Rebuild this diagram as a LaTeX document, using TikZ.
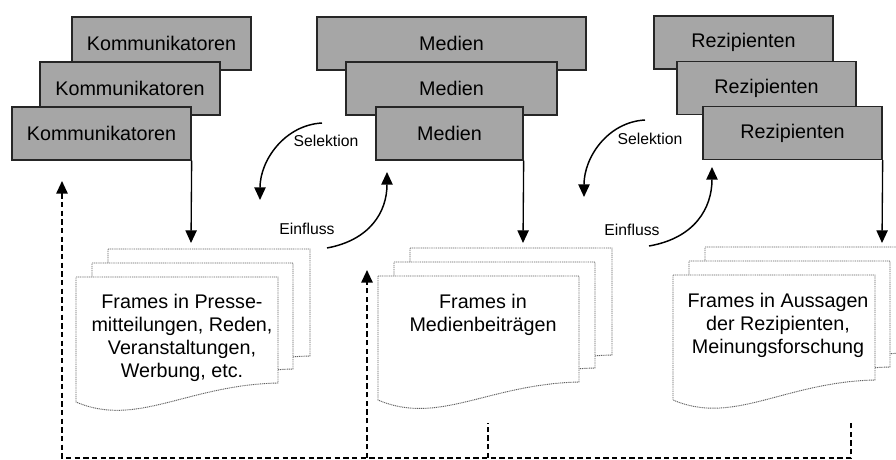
\documentclass[tikz,border=0pt]{standalone}
\usepackage{fontspec}
\setmainfont{Liberation Sans}
\usetikzlibrary{arrows.meta}
\tikzset{
  box/.style={draw=black!85, line width=1pt, fill=black!35, minimum height=53*0.75pt, inner sep=0pt, font=\fontsize{14.8}{17}\selectfont},
  docline/.style={draw=black!62, line width=0.7pt, dash pattern=on 0.8pt off 0.6pt, fill=white},
  doctext/.style={anchor=north, align=center, inner sep=0pt, font=\fontsize{14.8}{17.3}\selectfont},
  lab/.style={inner sep=0pt, font=\fontsize{11.8}{14}\selectfont},
  tip/.style={-{Triangle[width=8.5pt,length=9.5pt]}},
  flow/.style={line width=1pt, tip},
  curv/.style={line width=1.1pt, tip},
  fb/.style={line width=1.4pt, dash pattern=on 4pt off 2.5pt},
}
\newcommand\docshape[5]{%
  \path[docline] (#1,#2) -- (#3,#2) -- (#3,#4)
    .. controls ({#1+0.55*(#3-#1)},{#4+2}) and ({#1+0.3*(#3-#1)},{#5+26}) .. (#1,#5) -- cycle;}
\begin{document}
\begin{tikzpicture}[x=0.75pt, y=-0.75pt]
\useasboundingbox (0,0) rectangle (896,460);
\clip (0,0) rectangle (896,460);
\fill[white] (0,0) rectangle (896,460);

% Kommunikatoren
\node[box, minimum width=179*0.75pt] (k1) at (161.5,43.5) {Kommunikatoren};
\node[box, minimum width=180*0.75pt] (k2) at (130,88.5) {Kommunikatoren};
\node[box, minimum width=179*0.75pt] (k3) at (101.5,133.5) {Kommunikatoren};
% Medien
\node[box, minimum width=269*0.75pt] (m1) at (451.5,43.5) {Medien};
\node[box, minimum width=211*0.75pt] (m2) at (451.5,88.5) {Medien};
\node[box, minimum width=147*0.75pt] (m3) at (449.5,133.5) {Medien};
% Rezipienten
\node[box, minimum width=179*0.75pt] (r1) at (743.5,42.5) {Rezipienten};
\node[box, minimum width=179*0.75pt] (r2) at (766.5,88) {Rezipienten};
\node[box, minimum width=179*0.75pt] (r3) at (792.5,133) {Rezipienten};

% documents
\docshape{108}{249}{310}{356}{374}
\docshape{92}{263}{293}{369}{388}
\docshape{76}{277}{278}{383}{402}
\docshape{410}{248}{612}{355}{373}
\docshape{394}{262}{595}{368}{387}
\docshape{378}{276}{579}{382}{400}
\docshape{705}{247}{905}{353}{372}
\docshape{689}{261}{890}{367}{386}
\docshape{673}{275}{875}{380}{400}

\node[doctext] (t1) at (182,294) {Frames in Presse-\\mitteilungen, Reden,\\Veranstaltungen,\\Werbung, etc.};
\node[doctext] (t2) at (483,294) {Frames in\\Medienbeiträgen};
\node[doctext] (t3) at (778,293) {Frames in Aussagen\\der Rezipienten,\\Meinungsforschung};

% downward arrows
\coordinate (d1in) at (191,243);
\coordinate (d2in) at (523,243);
\coordinate (d3in) at (882,243);
\draw[flow] (k3.south east) -- (d1in);
\draw[flow] (m3.south east) -- (d2in);
\draw[flow] (r3.south east) -- (d3in);

% Selektion / Einfluss arcs
\coordinate (s1a) at (322,123); \coordinate (s1b) at (260,200);
\coordinate (s2a) at (645,120); \coordinate (s2b) at (584,197);
\coordinate (e1a) at (327,248); \coordinate (e1b) at (387,172);
\coordinate (e2a) at (649,246); \coordinate (e2b) at (712,167);
\draw[curv] (s1a) .. controls (285,125) and (260,160) .. (s1b);
\draw[curv] (s2a) .. controls (608,122) and (584,157) .. (s2b);
\draw[curv] (e1a) .. controls (370,240) and (387,212) .. (e1b);
\draw[curv] (e2a) .. controls (695,238) and (712,208) .. (e2b);
\node[lab] (sel1) at (326,141) {Selektion};
\node[lab] (sel2) at (650,139) {Selektion};
\node[lab] (ein1) at (307,229) {Einfluss};
\node[lab] (ein2) at (632,230) {Einfluss};

% feedback dashed lines
\coordinate (kin) at (62,181);
\coordinate (f0) at (62,458);
\coordinate (f1) at (851,458);
\coordinate (d3out) at (851,423);
\coordinate (min) at (367,270);
\coordinate (m0) at (367,458);
\coordinate (d2out) at (488,423);
\coordinate (d2b) at (488,458);
\draw[fb, {Triangle[width=8.5pt,length=9.5pt]}-] (kin) -- (f0) -- (f1) -- (d3out);
\draw[fb, tip] (m0) -- (min);
\draw[fb] (d2b) -- (d2out);
\end{tikzpicture}
\end{document}
